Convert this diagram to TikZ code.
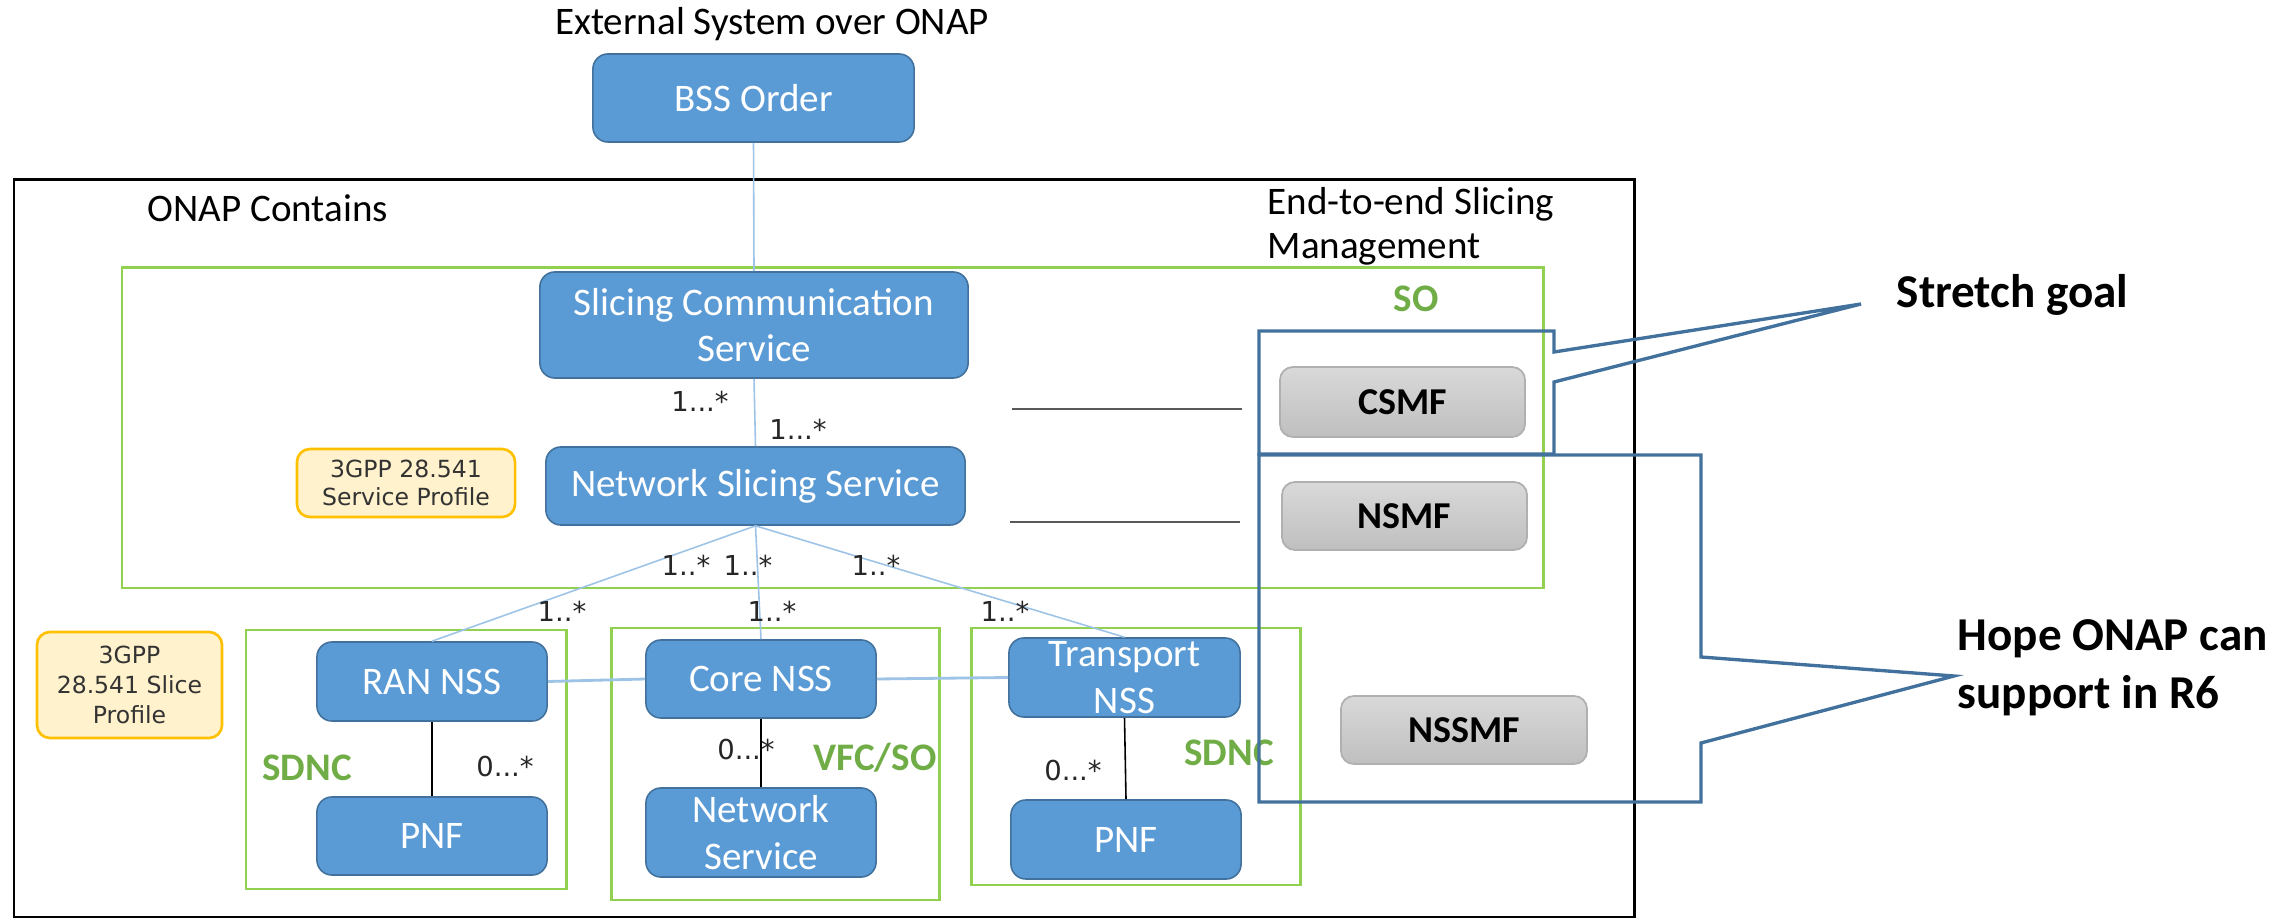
\documentclass[tikz,border=0pt]{standalone}
\usepackage{fontspec}
\setmainfont{Carlito}
\newfontfamily\dvs{DejaVu Sans}
\definecolor{bfill}{HTML}{5B9BD5}
\definecolor{bdraw}{HTML}{41719C}
\definecolor{connc}{HTML}{9DC3E6}
\definecolor{grn}{HTML}{92D050}
\definecolor{grntxt}{HTML}{70AD47}
\definecolor{callc}{HTML}{41719C}
\definecolor{yfill}{HTML}{FFF2CC}
\definecolor{ydraw}{HTML}{FFC000}
\definecolor{gline}{HTML}{595959}
\definecolor{gtop}{HTML}{D9D9D9}
\definecolor{gbot}{HTML}{BFBFBF}
\definecolor{gedge}{HTML}{B0B0B0}
\begin{document}
\begin{tikzpicture}[x=0.01cm,y=-0.01cm,
  bluebox/.style={draw=bdraw,line width=0.45pt,fill=bfill,rounded corners=0.15cm,text=white,align=center,inner sep=0pt,font=\fontsize{11.1pt}{13.2pt}\selectfont},
  graybox/.style={draw=gedge,line width=0.5pt,top color=gtop,bottom color=gbot,rounded corners=0.13cm,inner sep=0pt,font=\fontsize{10.8pt}{13pt}\selectfont\bfseries},
  yelbox/.style={draw=ydraw,line width=0.75pt,fill=yfill,rounded corners=0.13cm,align=center,inner sep=0pt,text=black!80},
  grnbox/.style={draw=grn,line width=0.85pt},
  grntext/.style={text=grntxt,font=\fontsize{11.1pt}{13pt}\selectfont\bfseries,inner sep=0pt},
  mult/.style={font=\dvs\fontsize{7.8pt}{9pt}\selectfont,inner sep=0pt,text=black!85},
  conn/.style={draw=connc,line width=0.45pt},
  connthick/.style={draw=connc,line width=0.8pt},
  blackline/.style={draw=black,line width=0.45pt},
  grayline/.style={draw=gline,line width=0.85pt},
  callout/.style={draw=callc,line width=0.95pt,line join=miter},
  plain/.style={inner sep=0pt,font=\fontsize{11.1pt}{12.5pt}\selectfont},
  bigbold/.style={inner sep=0pt,font=\fontsize{13.4pt}{16.5pt}\selectfont\bfseries,align=left},
]
\useasboundingbox (0,0) rectangle (2279,919);

% outer ONAP frame
\draw[line width=0.85pt] (14,180) rectangle (1634,917);

% green containers
\draw[grnbox] (122,268) rectangle (1543,588);
\draw[grnbox] (246,630) rectangle (566,889);
\draw[grnbox] (611,628) rectangle (939,900);
\draw[grnbox] (971,628) rectangle (1300,885);

% texts
\node[plain,anchor=base] (ext) at (772,35) {External System over ONAP};
\node[plain,anchor=base west] (onapc) at (147,222) {ONAP Contains};
\node[plain,anchor=west,align=left] (e2e) at (1267,226) {End-to-end Slicing\\Management};
\node[grntext,anchor=base] (so) at (1416,312) {SO};
\node[grntext,anchor=base] (sdnc1) at (307,780) {SDNC};
\node[grntext,anchor=base] (vfc) at (875,770) {VFC/SO};
\node[grntext,anchor=base] (sdnc3) at (1229,765) {SDNC};

% blue boxes
\node[bluebox,minimum width=3.21cm,minimum height=0.88cm] (bss) at (753.5,98) {BSS Order};
\node[bluebox,minimum width=4.28cm,minimum height=1.06cm] (scs) at (754,325) {Slicing Communication\\Service};
\node[bluebox,minimum width=4.19cm,minimum height=0.78cm] (nss) at (755.5,486) {Network Slicing Service};
\node[bluebox,minimum width=2.30cm,minimum height=0.79cm] (ran) at (432,681.5) {RAN NSS};
\node[bluebox,minimum width=2.30cm,minimum height=0.78cm] (pnf1) at (432,836) {PNF};
\node[bluebox,minimum width=2.30cm,minimum height=0.78cm] (core) at (761,679) {Core NSS};
\node[bluebox,minimum width=2.30cm,minimum height=0.89cm] (ns) at (761,832.5) {Network\\Service};
\node[bluebox,minimum width=2.31cm,minimum height=0.79cm] (tnss) at (1124.5,677.5) {Transport\\NSS};
\node[bluebox,minimum width=2.30cm,minimum height=0.79cm] (pnf3) at (1126,839.5) {PNF};

% gray function boxes
\node[graybox,minimum width=2.45cm,minimum height=0.70cm] (csmf) at (1402.5,402) {CSMF};
\node[graybox,minimum width=2.45cm,minimum height=0.68cm] (nsmf) at (1404.5,516) {NSMF};
\node[graybox,minimum width=2.46cm,minimum height=0.68cm] (nssmf) at (1464,730) {NSSMF};

% yellow profile boxes
\node[yelbox,minimum width=2.18cm,minimum height=0.68cm,font=\dvs\fontsize{6.7pt}{8pt}\selectfont] (sprof) at (406,483) {3GPP 28.541\\Service Profile};
\node[yelbox,minimum width=1.85cm,minimum height=1.06cm,font=\dvs\fontsize{6.7pt}{8.5pt}\selectfont] (slprof) at (129.5,685) {3GPP\\28.541 Slice\\Profile};

% connectors
\draw[conn] (bss.south) -- (scs.north);
\draw[conn] (scs.south) -- (nss.north);
\draw[conn] (nss.south) -- (ran.north);
\draw[conn] (nss.south) -- (core.north);
\draw[conn] (nss.south) -- (tnss.north);
\draw[connthick] (ran.east) -- (core.west);
\draw[connthick] (core.east) -- (tnss.west);
\draw[blackline] (ran.south) -- (pnf1.north);
\draw[blackline] (core.south) -- (ns.north);
\draw[blackline] (tnss.south) -- (pnf3.north);

% free-standing gray lines
\coordinate (g1a) at (1012,409); \coordinate (g1b) at (1242,409);
\coordinate (g2a) at (1010,522); \coordinate (g2b) at (1240,522);
\draw[grayline] (g1a) -- (g1b);
\draw[grayline] (g2a) -- (g2b);

% multiplicities
\node[mult] (m1) at (700,401) {1...*};
\node[mult] (m2) at (798,429) {1...*};
\node[mult] (m3) at (686,565) {1..*};
\node[mult] (m4) at (748,565) {1..*};
\node[mult] (m5) at (876,565) {1..*};
\node[mult] (m6) at (562,611) {1..*};
\node[mult] (m7) at (772,611) {1..*};
\node[mult] (m8) at (1005,611) {1..*};
\node[mult] (m9) at (505,767) {0...*};
\node[mult] (m10) at (746,750) {0...*};
\node[mult] (m11) at (1073,771) {0...*};

% callouts
\node[bigbold,anchor=base west] (stretch) at (1896,308) {Stretch goal};
\node[bigbold,anchor=west] (hope) at (1957,668) {Hope ONAP can\\support in R6};
\coordinate (tip1) at (1861,304);
\coordinate (tip2) at (1954,676);
\draw[callout] (1259,331) -- (1554,331) -- (1554,352) -- (tip1) -- (1554,382) -- (1554,454) -- (1259,454) -- cycle;
\draw[callout] (1259,455) -- (1701,455) -- (1701,657) -- (tip2) -- (1701,743) -- (1701,802) -- (1259,802) -- cycle;
\end{tikzpicture}
\end{document}
